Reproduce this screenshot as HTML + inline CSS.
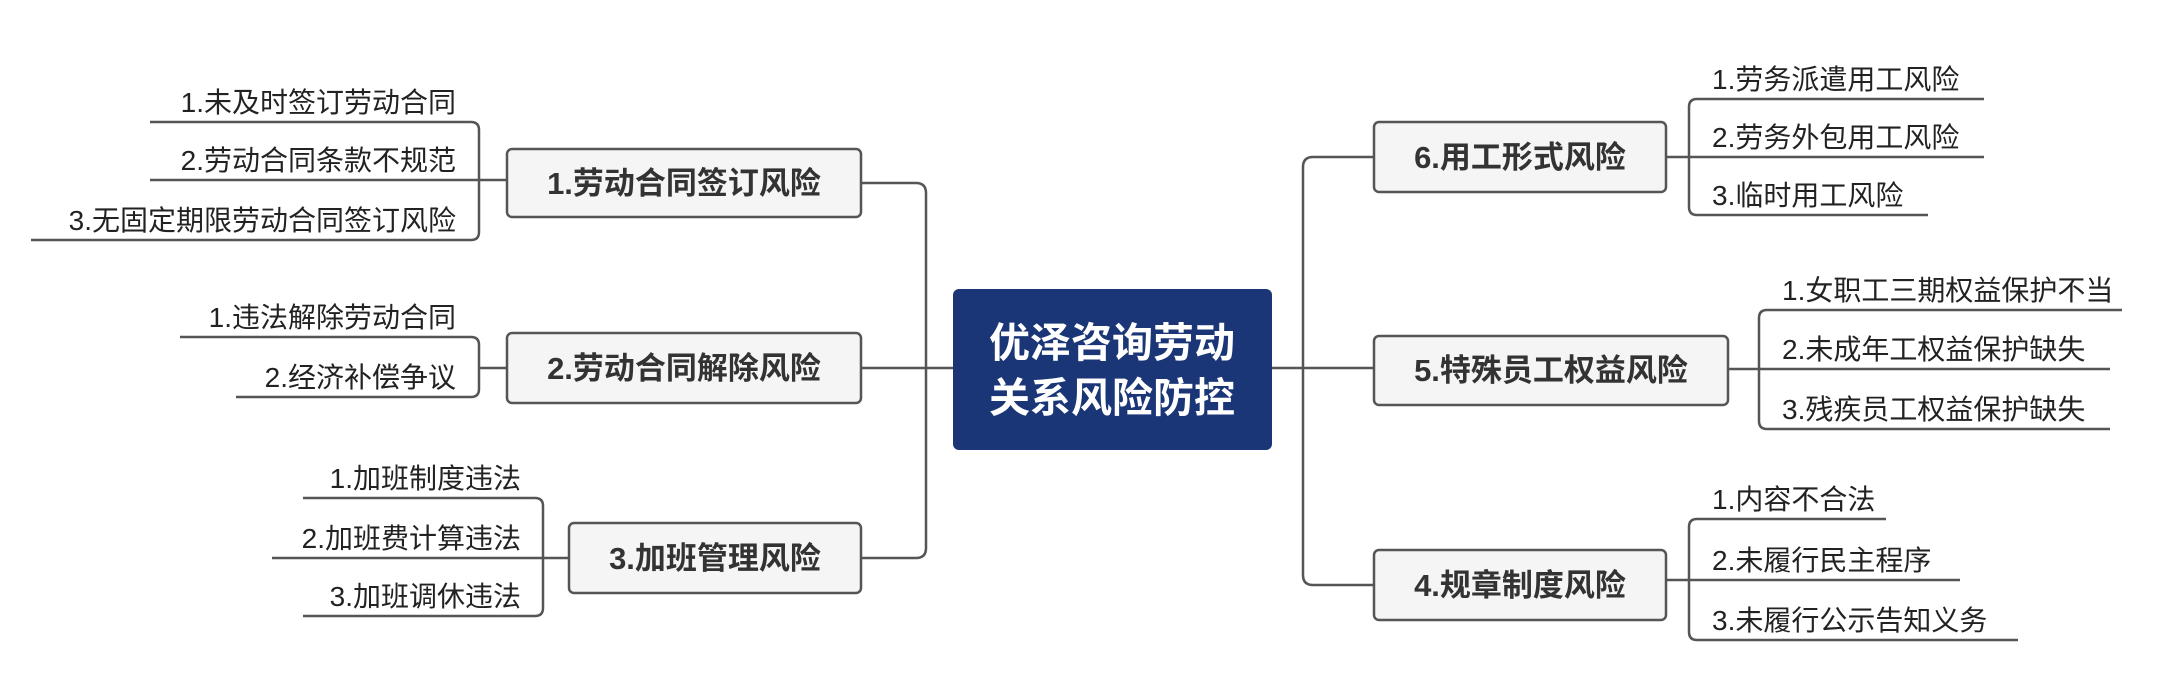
<!DOCTYPE html>
<html><head><meta charset="utf-8"><style>
html,body{margin:0;padding:0;background:#fff;}
svg{display:block;}
text{font-family:"Liberation Sans","Noto Sans CJK SC",sans-serif;}
.leaf{font-size:28px;fill:#222;}
.br{font-size:31px;font-weight:bold;fill:#333;}
.ln{stroke:#555;stroke-width:2.5;fill:none;}
.bx{fill:#f5f5f5;stroke:#555;stroke-width:2.5;}
</style></head><body>
<svg width="2166" height="692" viewBox="0 0 2166 692">
<path class="ln" d="M861 183 H916 Q926 183 926 193 V548 Q926 558 916 558 H861"/>
<path class="ln" d="M861 368 H953"/>
<path class="ln" d="M1272 368 H1374"/>
<path class="ln" d="M1374 157 H1313 Q1303 157 1303 167 V575 Q1303 585 1313 585 H1374"/>
<rect x="953" y="289" width="319" height="161" rx="6" fill="#1b3677"/>
<text x="1112" y="357" text-anchor="middle" font-size="41" font-weight="bold" fill="#fff">优泽咨询劳动</text>
<text x="1112" y="412" text-anchor="middle" font-size="41" font-weight="bold" fill="#fff">关系风险防控</text>
<rect class="bx" x="507" y="149" width="354" height="68" rx="5"/>
<text class="br" x="684" y="194" text-anchor="middle">1.劳动合同签订风险</text>
<rect class="bx" x="507" y="333" width="354" height="70" rx="5"/>
<text class="br" x="684" y="379" text-anchor="middle">2.劳动合同解除风险</text>
<rect class="bx" x="569" y="523" width="292" height="70" rx="5"/>
<text class="br" x="715" y="569" text-anchor="middle">3.加班管理风险</text>
<rect class="bx" x="1374" y="122" width="292" height="70" rx="5"/>
<text class="br" x="1520" y="168" text-anchor="middle">6.用工形式风险</text>
<rect class="bx" x="1374" y="336" width="354" height="69" rx="5"/>
<text class="br" x="1551" y="381" text-anchor="middle">5.特殊员工权益风险</text>
<rect class="bx" x="1374" y="550" width="292" height="70" rx="5"/>
<text class="br" x="1520" y="596" text-anchor="middle">4.规章制度风险</text>
<path class="ln" d="M150 122 H471 Q479 122 479 130 V232 Q479 240 471 240 H31"/>
<path class="ln" d="M150 180 H507"/>
<text class="leaf" x="456" y="112" text-anchor="end">1.未及时签订劳动合同</text>
<text class="leaf" x="456" y="170" text-anchor="end">2.劳动合同条款不规范</text>
<text class="leaf" x="456" y="230" text-anchor="end">3.无固定期限劳动合同签订风险</text>
<path class="ln" d="M180 337 H471 Q479 337 479 345 V389 Q479 397 471 397 H236"/>
<path class="ln" d="M479 368 H507"/>
<text class="leaf" x="456" y="327" text-anchor="end">1.违法解除劳动合同</text>
<text class="leaf" x="456" y="387" text-anchor="end">2.经济补偿争议</text>
<path class="ln" d="M303 498 H535 Q543 498 543 506 V608 Q543 616 535 616 H303"/>
<path class="ln" d="M272 558 H569"/>
<text class="leaf" x="521" y="488" text-anchor="end">1.加班制度违法</text>
<text class="leaf" x="521" y="548" text-anchor="end">2.加班费计算违法</text>
<text class="leaf" x="521" y="606" text-anchor="end">3.加班调休违法</text>
<path class="ln" d="M1984 99 H1697 Q1689 99 1689 107 V207 Q1689 215 1697 215 H1928"/>
<path class="ln" d="M1666 157 H1984"/>
<text class="leaf" x="1712" y="89">1.劳务派遣用工风险</text>
<text class="leaf" x="1712" y="147">2.劳务外包用工风险</text>
<text class="leaf" x="1712" y="205">3.临时用工风险</text>
<path class="ln" d="M2122 310 H1767 Q1759 310 1759 318 V421 Q1759 429 1767 429 H2110"/>
<path class="ln" d="M1728 369 H2110"/>
<text class="leaf" x="1782" y="300">1.女职工三期权益保护不当</text>
<text class="leaf" x="1782" y="359">2.未成年工权益保护缺失</text>
<text class="leaf" x="1782" y="419">3.残疾员工权益保护缺失</text>
<path class="ln" d="M1886 519 H1697 Q1689 519 1689 527 V632 Q1689 640 1697 640 H2018"/>
<path class="ln" d="M1666 580 H1960"/>
<text class="leaf" x="1712" y="509">1.内容不合法</text>
<text class="leaf" x="1712" y="570">2.未履行民主程序</text>
<text class="leaf" x="1712" y="630">3.未履行公示告知义务</text>
</svg>
</body></html>
